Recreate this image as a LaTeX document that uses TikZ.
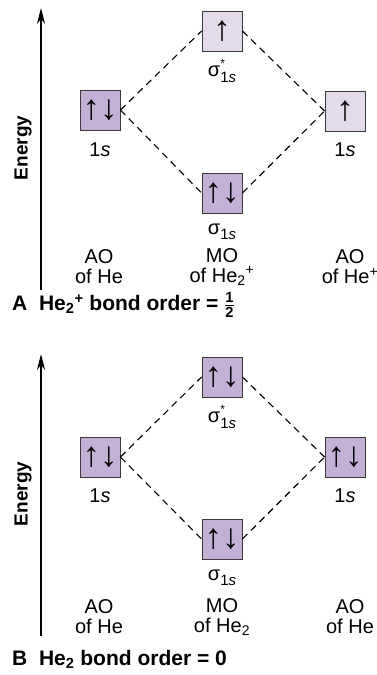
\documentclass[tikz,border=0pt]{standalone}
\usepackage{fontspec}
\setmainfont{Liberation Sans}
\usepackage{amsmath}
\usetikzlibrary{arrows.meta}
\definecolor{dk}{HTML}{C5B0D5}
\definecolor{lt}{HTML}{E3DAEC}
\definecolor{edgec}{HTML}{3A3A3A}
\newcommand{\sigstar}{σ\makebox[0pt][l]{\raisebox{0.85ex}{\fontsize{12}{12}\selectfont *}}\raisebox{-0.5ex}{\fontsize{15}{15}\selectfont 1\textit{s}}}
\newcommand{\sigone}{σ\raisebox{-0.45ex}{\fontsize{15}{15}\selectfont 1\textit{s}}}
\begin{document}
\begin{tikzpicture}[x=1pt,y=-1pt,
 orb/.style={draw=edgec, line width=0.9pt, minimum size=40pt, inner sep=0pt, font=\fontsize{35}{35}\selectfont},
 dkorb/.style={orb, fill=dk},
 ltorb/.style={orb, fill=lt},
 lbl/.style={font=\fontsize{20}{20}\selectfont, align=center, inner sep=0pt},
 dline/.style={dash pattern=on 7pt off 5pt, line width=1.1pt},
 axisline/.style={line width=1.4pt, -{Stealth[length=16pt,width=8pt]}},
 energylbl/.style={rotate=90, font=\bfseries\fontsize{19}{19}\selectfont, inner sep=0pt},
 captxt/.style={anchor=west, font=\bfseries\fontsize{21}{21}\selectfont, inner sep=0pt}
]
\useasboundingbox (0,0) rectangle (377,675);
% ---------- Panel A ----------
\coordinate (a0) at (41,290);
\coordinate (a1) at (41,8);
\draw[axisline] (a0) -- (a1);
\node[energylbl] (enA) at (23,148) {Energy};
\node[dkorb] (Al) at (100,110) {↑↓};
\node[ltorb] (At) at (222,31) {↑};
\node[ltorb] (Ar) at (345,111) {↑};
\node[dkorb] (Ab) at (222,193) {↑↓};
\draw[dline] (Al.east) -- (At.west);
\draw[dline] (At.east) -- (Ar.west);
\draw[dline] (Al.east) -- (Ab.west);
\draw[dline] (Ab.east) -- (Ar.west);
\node[lbl] (Al1) at (100,150) {1\textit{s}};
\node[lbl] (Ar1) at (345,150) {1\textit{s}};
\node[lbl] (At1) at (222,71) {\sigstar};
\node[lbl] (Ab1) at (222,232) {\sigone};
\node[lbl] (AaoL) at (99,267) {AO\\of He};
\node[lbl] (Amo) at (222,267) {MO\\of He\textsubscript{2}\textsuperscript{+}};
\node[lbl] (AaoR) at (350,267) {AO\\of He\textsuperscript{+}};
\node[captxt] (capA) at (12,305) {A\ \ He\textsubscript{2}\textsuperscript{+} bond order = $\frac{\text{\bfseries 1}}{\text{\bfseries 2}}$};
% ---------- Panel B ----------
\coordinate (b0) at (41,636);
\coordinate (b1) at (41,354);
\draw[axisline] (b0) -- (b1);
\node[energylbl] (enB) at (23,494) {Energy};
\node[dkorb] (Bl) at (100,457) {↑↓};
\node[dkorb] (Bt) at (222,377) {↑↓};
\node[dkorb] (Br) at (345,457) {↑↓};
\node[dkorb] (Bb) at (222,539) {↑↓};
\draw[dline] (Bl.east) -- (Bt.west);
\draw[dline] (Bt.east) -- (Br.west);
\draw[dline] (Bl.east) -- (Bb.west);
\draw[dline] (Bb.east) -- (Br.west);
\node[lbl] (Bl1) at (100,496) {1\textit{s}};
\node[lbl] (Br1) at (345,496) {1\textit{s}};
\node[lbl] (Bt1) at (222,417) {\sigstar};
\node[lbl] (Bb1) at (222,578) {\sigone};
\node[lbl] (BaoL) at (99,617) {AO\\of He};
\node[lbl] (Bmo) at (222,617) {MO\\of He\textsubscript{2}};
\node[lbl] (BaoR) at (350,617) {AO\\of He};
\node[captxt] (capB) at (12,659) {B\ \ He\textsubscript{2} bond order = 0};
\end{tikzpicture}
\end{document}
